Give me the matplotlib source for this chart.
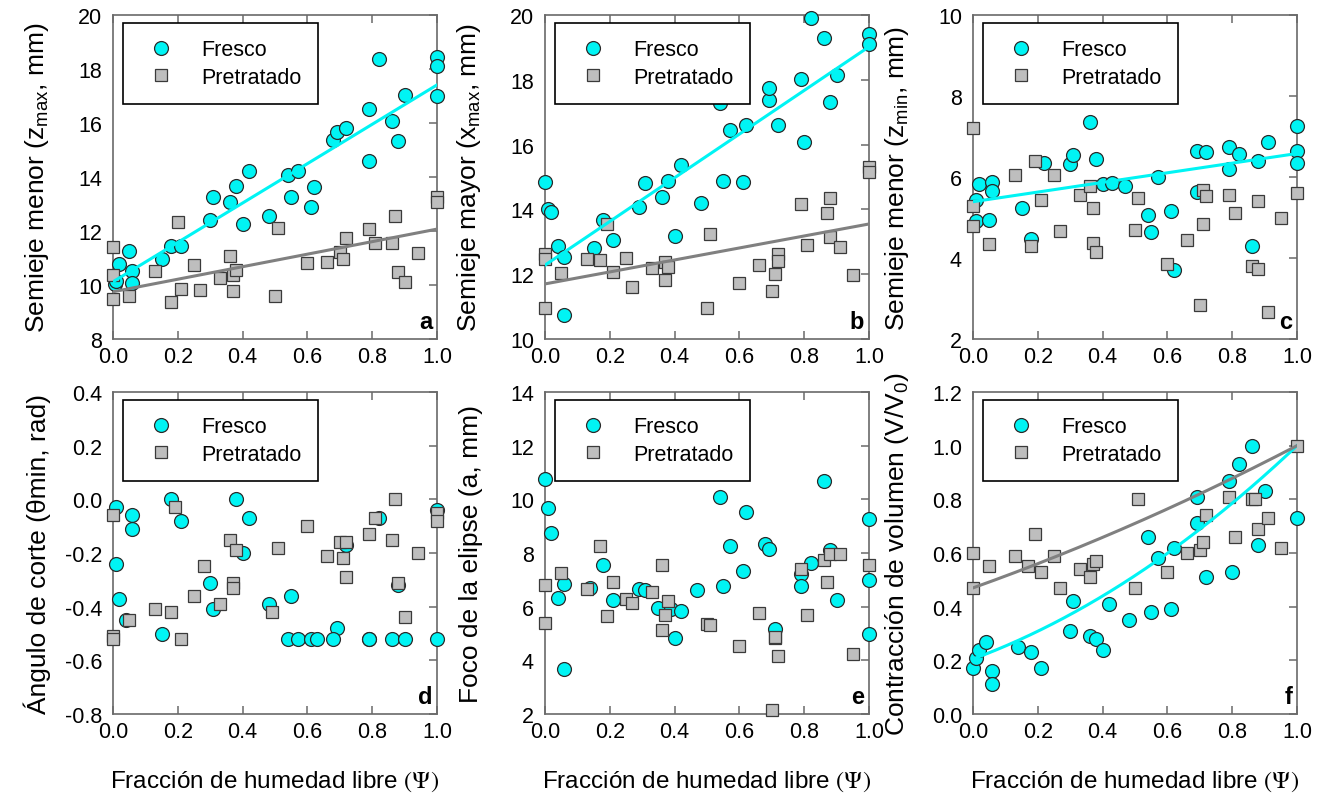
import matplotlib
matplotlib.use('Agg')
import matplotlib.pyplot as plt
import numpy as np

# --- data: Fresco (circles) and Pretratado (squares) per panel ---
a_fx = [0.005, 0.01, 0.02, 0.05, 0.06, 0.06, 0.15, 0.18, 0.21, 0.30, 0.31, 0.36, 0.38, 0.40, 0.42, 0.48,
        0.54, 0.57, 0.55, 0.62, 0.61, 0.68, 0.69, 0.72, 0.79, 0.79, 0.82, 0.86, 0.88, 0.90, 1.00, 1.00, 1.00]
a_fy = [10.05, 10.16, 10.78, 11.27, 10.53, 10.07, 10.96, 11.43, 11.43, 12.41, 13.25, 13.09, 13.68, 12.26, 14.23, 12.57,
        14.09, 14.23, 13.25, 13.64, 12.90, 15.37, 15.68, 15.80, 16.52, 14.60, 18.37, 16.09, 15.35, 17.04, 18.46, 18.12, 16.99]
a_px = [0.0, 0.0, 0.0, 0.05, 0.13, 0.18, 0.20, 0.21, 0.25, 0.27, 0.33, 0.36, 0.37, 0.38, 0.37, 0.50,
        0.51, 0.60, 0.66, 0.70, 0.71, 0.72, 0.79, 0.81, 0.86, 0.87, 0.88, 0.90, 0.94, 1.00, 1.00]
a_py = [11.40, 10.38, 9.48, 9.58, 10.53, 9.36, 12.32, 9.85, 10.75, 9.81, 10.25, 11.06, 10.38, 10.56, 9.77, 9.58,
        12.11, 10.80, 10.84, 11.23, 10.96, 11.73, 12.07, 11.56, 11.54, 12.57, 10.47, 10.10, 11.19, 13.25, 13.09]

b_fx = [0.00, 0.01, 0.02, 0.04, 0.06, 0.06, 0.15, 0.18, 0.21, 0.29, 0.31, 0.36, 0.38, 0.40, 0.42, 0.48,
        0.54, 0.55, 0.57, 0.61, 0.62, 0.69, 0.69, 0.72, 0.79, 0.80, 0.82, 0.86, 0.88, 0.90, 1.00, 1.00]
b_fy = [14.84, 14.01, 13.91, 12.88, 12.54, 10.74, 12.81, 13.68, 13.06, 14.06, 14.80, 14.37, 14.89, 13.19, 15.38, 14.20,
        17.27, 14.87, 16.45, 14.84, 16.62, 17.39, 17.75, 16.62, 18.02, 16.07, 19.90, 19.28, 17.30, 18.15, 19.41, 19.10]
b_px = [0.0, 0.0, 0.0, 0.05, 0.13, 0.17, 0.19, 0.21, 0.25, 0.27, 0.33, 0.37, 0.37, 0.38, 0.50, 0.51,
        0.60, 0.66, 0.70, 0.71, 0.72, 0.72, 0.79, 0.81, 0.87, 0.88, 0.88, 0.91, 0.95, 1.00, 1.00]
b_py = [12.62, 12.47, 10.95, 12.03, 12.47, 12.45, 13.55, 12.06, 12.49, 11.59, 12.18, 12.37, 11.83, 12.23, 10.95, 13.24,
        11.73, 12.28, 11.47, 12.01, 12.62, 12.42, 14.17, 12.90, 13.89, 14.34, 13.14, 12.85, 11.99, 15.30, 15.14]

c_fx = [0.01, 0.02, 0.01, 0.05, 0.06, 0.06, 0.15, 0.18, 0.22, 0.30, 0.31, 0.36, 0.38, 0.40, 0.43, 0.47, 0.57,
        0.54, 0.55, 0.61, 0.62, 0.69, 0.72, 0.69, 0.79, 0.82, 0.79, 0.88, 0.91, 0.86, 1.00, 1.00, 1.00]
c_fy = [5.44, 5.83, 4.92, 4.95, 5.87, 5.65, 5.23, 4.47, 6.35, 6.32, 6.55, 7.35, 6.44, 5.83, 5.84, 5.79, 5.99,
        5.05, 4.63, 5.17, 3.71, 6.63, 6.61, 5.64, 6.75, 6.57, 6.20, 6.40, 6.86, 4.29, 7.25, 6.65, 6.34]
c_px = [0.0, 0.0, 0.0, 0.05, 0.13, 0.19, 0.21, 0.18, 0.25, 0.27, 0.33, 0.36, 0.37, 0.37, 0.38, 0.51,
        0.50, 0.60, 0.66, 0.71, 0.71, 0.72, 0.70, 0.79, 0.81, 0.88, 0.86, 0.88, 0.95, 0.91, 1.00]
c_py = [7.21, 5.28, 4.80, 4.35, 6.06, 6.39, 5.43, 4.29, 6.06, 4.67, 5.56, 5.79, 5.23, 4.37, 4.16, 5.47,
        4.70, 3.85, 4.44, 4.84, 5.68, 5.54, 2.85, 5.56, 5.11, 5.40, 3.81, 3.73, 4.98, 2.66, 5.60]

d_fx = [0.01, 0.01, 0.02, 0.04, 0.06, 0.06, 0.15, 0.18, 0.21, 0.30, 0.31, 0.38, 0.40, 0.42, 0.48, 0.55,
        0.54, 0.57, 0.61, 0.63, 0.69, 0.68, 0.72, 0.79, 0.79, 0.82, 0.86, 0.88, 0.90, 1.00, 1.00]
d_fy = [-0.03, -0.24, -0.37, -0.45, -0.06, -0.11, -0.50, 0.00, -0.08, -0.31, -0.41, 0.00, -0.20, -0.07, -0.39, -0.36,
        -0.52, -0.52, -0.52, -0.52, -0.48, -0.52, -0.17, -0.52, -0.52, -0.07, -0.52, -0.32, -0.52, -0.04, -0.52]
d_px = [0.0, 0.0, 0.0, 0.05, 0.13, 0.18, 0.19, 0.21, 0.25, 0.28, 0.33, 0.36, 0.37, 0.37, 0.38, 0.49,
        0.51, 0.60, 0.66, 0.70, 0.72, 0.71, 0.72, 0.79, 0.81, 0.86, 0.87, 0.88, 0.90, 0.94, 1.00, 1.00]
d_py = [-0.06, -0.51, -0.52, -0.45, -0.41, -0.42, -0.03, -0.52, -0.36, -0.25, -0.39, -0.15, -0.31, -0.33, -0.19, -0.42,
        -0.18, -0.10, -0.21, -0.16, -0.16, -0.22, -0.29, -0.13, -0.07, -0.15, 0.00, -0.31, -0.44, -0.20, -0.05, -0.08]

e_fx = [0.00, 0.01, 0.02, 0.04, 0.06, 0.06, 0.14, 0.18, 0.21, 0.29, 0.31, 0.35, 0.39, 0.40, 0.42, 0.47, 0.54,
        0.55, 0.57, 0.61, 0.62, 0.68, 0.69, 0.71, 0.79, 0.79, 0.82, 0.86, 0.88, 0.90, 1.00, 1.00, 1.00]
e_fy = [10.77, 9.69, 8.76, 6.34, 6.83, 3.69, 6.71, 7.57, 6.26, 6.67, 6.61, 5.96, 5.93, 4.84, 5.83, 6.61, 10.09,
        6.77, 8.25, 7.32, 9.53, 8.35, 8.16, 5.18, 7.23, 6.76, 7.64, 10.67, 8.10, 6.24, 9.28, 6.98, 4.97]
e_px = [0.0, 0.0, 0.05, 0.13, 0.17, 0.19, 0.21, 0.25, 0.27, 0.33, 0.36, 0.37, 0.36, 0.38, 0.50,
        0.51, 0.60, 0.66, 0.71, 0.71, 0.72, 0.70, 0.79, 0.81, 0.86, 0.88, 0.87, 0.91, 0.95, 1.00]
e_py = [6.80, 5.40, 7.25, 6.65, 8.25, 5.65, 6.92, 6.27, 6.15, 6.55, 7.54, 5.68, 5.12, 6.20, 5.34,
        5.30, 4.52, 5.78, 4.84, 4.87, 4.15, 2.14, 7.42, 5.70, 7.73, 7.98, 6.92, 7.98, 4.25, 7.57]

f_fx = [0.00, 0.01, 0.02, 0.04, 0.06, 0.06, 0.14, 0.18, 0.21, 0.30, 0.31, 0.36, 0.38, 0.40, 0.42, 0.48,
        0.54, 0.55, 0.57, 0.61, 0.62, 0.69, 0.69, 0.72, 0.79, 0.80, 0.82, 0.86, 0.88, 0.90, 1.00]
f_fy = [0.17, 0.21, 0.24, 0.27, 0.16, 0.11, 0.25, 0.23, 0.17, 0.31, 0.42, 0.29, 0.28, 0.24, 0.41, 0.35,
        0.66, 0.38, 0.58, 0.39, 0.62, 0.81, 0.71, 0.51, 0.87, 0.53, 0.93, 1.00, 0.63, 0.83, 0.73]
f_px = [0.0, 0.0, 0.05, 0.13, 0.17, 0.19, 0.21, 0.25, 0.27, 0.33, 0.36, 0.37, 0.38, 0.50,
        0.51, 0.60, 0.66, 0.70, 0.71, 0.72, 0.79, 0.81, 0.86, 0.87, 0.88, 0.91, 0.95, 1.00]
f_py = [0.60, 0.47, 0.55, 0.59, 0.55, 0.67, 0.53, 0.59, 0.47, 0.54, 0.51, 0.56, 0.57, 0.47,
        0.80, 0.53, 0.60, 0.61, 0.64, 0.74, 0.81, 0.66, 0.80, 0.80, 0.69, 0.73, 0.62, 1.00]

# fitted trends, polynomial coefficients (c0, c1, c2) in x
fit_a_fresco = [10.12, 7.29, 0.0]
fit_a_pret = [9.75, 2.32, 0.0]
fit_b_fresco = [12.28, 6.74, 0.0]
fit_b_pret = [11.70, 1.85, 0.0]
fit_c_fresco = [5.39, 1.19, 0.0]
fit_f_fresco = [0.205, 0.448, 0.347]
fit_f_pret = [0.47, 0.431, 0.099]

panel_letters = ['a', 'b', 'c', 'd', 'e', 'f']
ylabels = ['Semieje menor (z$_{\\mathrm{max}}$, mm)',
           'Semieje mayor (x$_{\\mathrm{max}}$, mm)',
           'Semieje menor (z$_{\\mathrm{min}}$, mm)',
           'Ángulo de corte (θmin, rad)',
           'Foco de la elipse (a, mm)',
           'Contracción de volumen (V/V$_{\\mathrm{0}}$)']
ylims = [(8, 20), (10, 20), (2, 10), (-0.8, 0.4), (2, 14), (0.0, 1.2)]
ysteps = [2, 2, 2, 0.2, 2, 0.2]
yfmt = ['%d', '%d', '%d', '%.1f', '%d', '%.1f']
xticks = [0.0, 0.2, 0.4, 0.6, 0.8, 1.0]
xlabel = 'Fracción de humedad libre $(\\Psi)$'

CYAN = '#00F4F4'
EDGE = '#2a2a2a'
SQ_FILL = '#BEBEBE'
SQ_EDGE = '#3a3a3a'
LINE_GRAY = '#808080'
SPINE = '#6a6a6a'

plt.rcParams['font.family'] = ['Liberation Sans', 'DejaVu Sans']
plt.rcParams['mathtext.fontset'] = 'custom'
plt.rcParams['mathtext.rm'] = 'Liberation Sans'
plt.rcParams['mathtext.it'] = 'Liberation Sans:italic'
plt.rcParams['mathtext.bf'] = 'Liberation Sans:bold'

fig = plt.figure(figsize=(13.2, 8.04), dpi=100)

W, H = 1320.0, 804.0
lefts = [113, 545, 973]
rows = [(16, 340), (393, 715)]

data = [
    (a_fx, a_fy, a_px, a_py, [fit_a_fresco], [fit_a_pret]),
    (b_fx, b_fy, b_px, b_py, [fit_b_fresco], [fit_b_pret]),
    (c_fx, c_fy, c_px, c_py, [fit_c_fresco], []),
    (d_fx, d_fy, d_px, d_py, [], []),
    (e_fx, e_fy, e_px, e_py, [], []),
    (f_fx, f_fy, f_px, f_py, [fit_f_fresco], [fit_f_pret]),
]

xx = np.linspace(0, 1, 200)

for i, (fx, fy, px, py, fits_f, fits_p) in enumerate(data):
    r, c = divmod(i, 3)
    top, bot = rows[r]
    left = lefts[c]
    ax = fig.add_axes([left / W, 1 - bot / H, 324 / W, (bot - top) / H])

    ax.plot(fx, fy, 'o', ms=10, mfc=CYAN, mec=EDGE, mew=0.9, clip_on=False,
            label='Fresco', zorder=3)
    ax.plot(px, py, 's', ms=8, mfc=SQ_FILL, mec=SQ_EDGE, mew=0.9, clip_on=False,
            label='Pretratado', zorder=4)
    for cf in fits_f:
        ax.plot(xx, cf[0] + cf[1] * xx + cf[2] * xx ** 2, color=CYAN, lw=2.2, zorder=5)
    for cf in fits_p:
        ax.plot(xx, cf[0] + cf[1] * xx + cf[2] * xx ** 2, color=LINE_GRAY, lw=2.2, zorder=5)

    lo, hi = ylims[i]
    ax.set_xlim(0, 1)
    ax.set_ylim(lo, hi)
    ax.set_xticks(xticks)
    ax.set_xticklabels(['%.1f' % v for v in xticks])
    n = int(round((hi - lo) / ysteps[i]))
    yt = [lo + k * ysteps[i] for k in range(n + 1)]
    ax.set_yticks(yt)
    ax.set_yticklabels([yfmt[i] % v for v in yt])

    for s in ax.spines.values():
        s.set_color(SPINE)
        s.set_linewidth(1.2)
    ax.tick_params(axis='x', direction='in', top=True, bottom=True, length=6,
                   color=SPINE, width=1.1, labelsize=15.5, pad=5)
    ax.tick_params(axis='y', direction='in', left=False, right=True, length=6,
                   color=SPINE, width=1.1, labelsize=15.5, pad=8)

    ax.set_ylabel(ylabels[i], fontsize=19)
    ax.yaxis.set_label_coords(-0.19, 0.5)
    if r == 1:
        ax.set_xlabel(xlabel, fontsize=17.5, math_fontfamily='stix')
        ax.xaxis.set_label_coords(0.5, -0.17)

    ax.text(0.985, 0.02, panel_letters[i], transform=ax.transAxes, ha='right', va='bottom',
            fontsize=17, fontweight='bold', zorder=6)

    leg = ax.legend(loc='upper left', bbox_to_anchor=(0.03, 0.975), borderaxespad=0,
                    fontsize=15.5, fancybox=False, framealpha=1, edgecolor='black',
                    borderpad=0.75, handlelength=2.1, handletextpad=0.8, labelspacing=0.3,
                    numpoints=1)
    leg.get_frame().set_linewidth(1.2)
    leg.set_zorder(10)

fig.savefig('out.png', dpi=100)
plt.close(fig)
